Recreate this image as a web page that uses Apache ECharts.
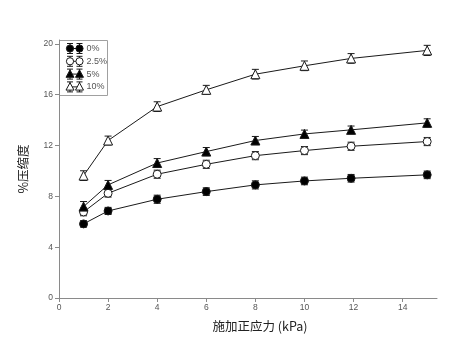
<!DOCTYPE html>
<html>
<head>
<meta charset="utf-8">
<script src="https://cdn.jsdelivr.net/npm/echarts@6/dist/echarts.min.js"></script>
<style>
  html, body { margin: 0; padding: 0; background: #fff; }
  #chart { width: 462px; height: 345px; }
</style>
</head>
<body>
<div id="chart"></div>
<script>
// Normal stress applied (kPa)
const stress = [1, 2, 4, 6, 8, 10, 11.9, 15];

// Compression (%) for each additive level, with standard errors
const names = ['0%', '2.5%', '5%', '10%'];
const comp0  = [5.83, 6.85, 7.77, 8.37, 8.90, 9.21, 9.42, 9.69];
const comp25 = [6.77, 8.24, 9.74, 10.52, 11.20, 11.60, 11.94, 12.31];
const comp5  = [7.19, 8.90, 10.62, 11.52, 12.39, 12.91, 13.23, 13.78];
const comp10 = [9.63, 12.39, 15.06, 16.38, 17.61, 18.27, 18.85, 19.48];
const err0  = [0.25, 0.28, 0.32, 0.30, 0.32, 0.30, 0.30, 0.30];
const err25 = [0.30, 0.30, 0.32, 0.32, 0.32, 0.32, 0.32, 0.32];
const err5  = [0.40, 0.35, 0.35, 0.32, 0.32, 0.30, 0.30, 0.32];
const err10 = [0.38, 0.35, 0.38, 0.35, 0.38, 0.38, 0.38, 0.40];

const xTicks = [0, 2, 4, 6, 8, 10, 12, 14];
const yTicks = [0, 4, 8, 12, 16, 20];

const values = [comp0, comp25, comp5, comp10];
const errors = [err0, err25, err5, err10];
const symbols = ['circle', 'circle', 'triangle', 'triangle'];
const fills = ['#000', '#fff', '#000', '#fff'];

const ink = '#1a1a1a';
const axisGray = '#8a8a8a';
const labelGray = '#555';

const chart = echarts.init(document.getElementById('chart'));

const series = [];
values.forEach((vals, s) => {
  // error bars
  series.push({
    type: 'custom',
    z: 2,
    silent: true,
    data: stress.map((x, i) => [x, vals[i] - errors[s][i], vals[i] + errors[s][i]]),
    renderItem: function (params, api) {
      const lo = api.coord([api.value(0), api.value(1)]);
      const hi = api.coord([api.value(0), api.value(2)]);
      const w = 3.5;
      const st = { stroke: ink, lineWidth: 1 };
      return {
        type: 'group',
        children: [
          { type: 'line', shape: { x1: lo[0], y1: lo[1], x2: hi[0], y2: hi[1] }, style: st },
          { type: 'line', shape: { x1: lo[0] - w, y1: lo[1], x2: lo[0] + w, y2: lo[1] }, style: st },
          { type: 'line', shape: { x1: hi[0] - w, y1: hi[1], x2: hi[0] + w, y2: hi[1] }, style: st }
        ]
      };
    }
  });
  // mean line with markers
  series.push({
    type: 'line',
    name: names[s],
    z: 3,
    data: stress.map((x, i) => [x, vals[i]]),
    symbol: symbols[s],
    symbolSize: symbols[s] === 'circle' ? 8 : 9,
    showAllSymbol: true,
    lineStyle: { color: ink, width: 1 },
    itemStyle: { color: fills[s], borderColor: ink, borderWidth: 1 },
    emphasis: { disabled: true },
    animation: false
  });
});

// Legend box drawn as graphic elements
const legendChildren = [
  { type: 'rect', shape: { x: 0, y: 0, width: 48, height: 55 },
    style: { fill: '#fff', stroke: '#a0a0a0', lineWidth: 1 } }
];
names.forEach((n, s) => {
  const cy = 8 + s * 12.8;
  const xs = [10.5, 20];
  legendChildren.push({ type: 'line', shape: { x1: xs[0], y1: cy, x2: xs[1], y2: cy },
    style: { stroke: ink, lineWidth: 1 } });
  xs.forEach(cx => {
    legendChildren.push({ type: 'line', shape: { x1: cx, y1: cy - 5, x2: cx, y2: cy + 5 }, style: { stroke: ink, lineWidth: 1 } });
    legendChildren.push({ type: 'line', shape: { x1: cx - 3, y1: cy - 5, x2: cx + 3, y2: cy - 5 }, style: { stroke: ink, lineWidth: 1 } });
    legendChildren.push({ type: 'line', shape: { x1: cx - 3, y1: cy + 5, x2: cx + 3, y2: cy + 5 }, style: { stroke: ink, lineWidth: 1 } });
    if (symbols[s] === 'circle') {
      legendChildren.push({ type: 'circle', shape: { cx: cx, cy: cy, r: 3.6 },
        style: { fill: fills[s], stroke: ink, lineWidth: 1 } });
    } else {
      legendChildren.push({ type: 'polygon', shape: { points: [[cx, cy - 4.2], [cx + 4, cy + 3.2], [cx - 4, cy + 3.2]] },
        style: { fill: fills[s], stroke: ink, lineWidth: 1 } });
    }
  });
  legendChildren.push({ type: 'text', x: 27, y: cy,
    style: { text: n, fill: labelGray, font: '9px "Liberation Sans", Arial, sans-serif', verticalAlign: 'middle' } });
});

chart.setOption({
  animation: false,
  backgroundColor: '#fff',
  grid: { left: 59, right: 25, top: 40, bottom: 47, containLabel: false, outerBoundsMode: 'none' },
  xAxis: {
    type: 'value',
    min: 0, max: 15.4,
    name: '施加正应力 (kPa)',
    nameLocation: 'middle',
    nameGap: 22,
    nameTextStyle: { fontFamily: '"Noto Sans CJK SC", sans-serif', fontSize: 12.5, color: '#222', padding: [0, 0, 0, 24] },
    axisLine: { lineStyle: { color: axisGray, width: 1 } },
    axisTick: { show: true, length: 4, lineStyle: { color: axisGray }, customValues: xTicks },
    axisLabel: { customValues: xTicks, color: labelGray, fontSize: 8.5, fontFamily: '"Liberation Sans", Arial, sans-serif', margin: 5 },
    splitLine: { show: false }
  },
  yAxis: {
    type: 'value',
    min: 0, max: 20.3,
    name: '%压缩度',
    nameLocation: 'middle',
    nameGap: 29,
    nameRotate: 90,
    nameTextStyle: { fontFamily: '"Noto Sans CJK SC", sans-serif', fontSize: 12.5, color: '#222' },
    axisLine: { show: true, lineStyle: { color: axisGray, width: 1 } },
    axisTick: { show: true, length: 4, lineStyle: { color: axisGray }, customValues: yTicks },
    axisLabel: { customValues: yTicks, color: labelGray, fontSize: 8.5, fontFamily: '"Liberation Sans", Arial, sans-serif', margin: 6 },
    splitLine: { show: false }
  },
  graphic: [{ type: 'group', x: 59.5, y: 40.5, z: 10, children: legendChildren }],
  series: series
});
</script>
</body>
</html>
